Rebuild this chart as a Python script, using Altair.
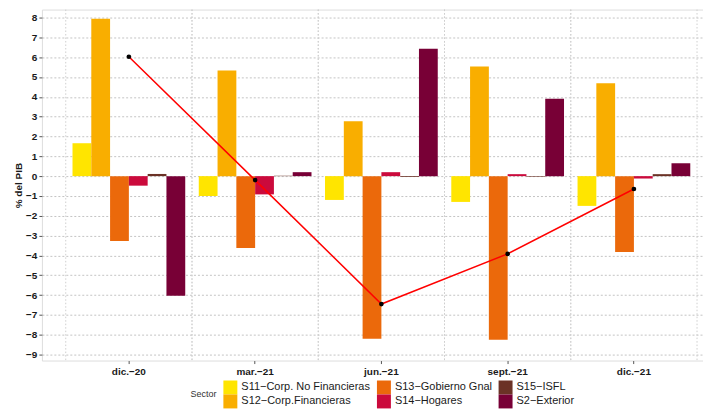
import altair as alt
import pandas as pd

periods = ["dic.\u221220", "mar.\u221221", "jun.\u221221", "sept.\u221221", "dic.\u221221"]
sectors = [
    "S11\u2212Corp. No Financieras",
    "S12\u2212Corp.Financieras",
    "S13\u2212Gobierno Gnal",
    "S14\u2212Hogares",
    "S15\u2212ISFL",
    "S2\u2212Exterior",
]
colors = ["#FFE500", "#F9AE00", "#EB690B", "#CB0A3C", "#6B3226", "#780036"]

s11 = [1.66, -1.0, -1.2, -1.3, -1.5]
s12 = [7.94, 5.33, 2.77, 5.53, 4.68]
s13 = [-3.27, -3.62, -8.2, -8.25, -3.82]
s14 = [-0.48, -0.92, 0.2, 0.1, -0.12]
s15 = [0.11, 0.02, -0.04, -0.03, 0.1]
s2 = [-6.03, 0.2, 6.43, 3.9, 0.65]
total = [6.02, -0.2, -6.45, -3.92, -0.65]

rows = []
for s, vals in zip(sectors, [s11, s12, s13, s14, s15, s2]):
    for p, v in zip(periods, vals):
        rows.append({"period": p, "sector": s, "value": v})
bars_df = pd.DataFrame(rows)
line_df = pd.DataFrame({"period": periods, "value": total})
grid_df = pd.DataFrame({"period": periods})

FONT = "Liberation Sans"
x_scale = alt.Scale(domain=periods, paddingInner=0, paddingOuter=0.118, align=0.8)
y_scale = alt.Scale(domain=[-9.3, 8.4], nice=False, zero=False)

legend_order = [0, 2, 4, 1, 3, 5]
color_scale = alt.Scale(
    domain=[sectors[i] for i in legend_order],
    range=[colors[i] for i in legend_order],
)

y_vals = [i / 2 for i in range(-18, 17)]

y_axis = alt.Axis(
    title="% del PIB",
    values=y_vals,
    tickCount=60,
    labelOverlap=False,
    format="d",
    labelExpr="datum.value % 1 === 0 ? datum.label : ''",
    tickOpacity={"condition": {"test": "datum.value % 1 !== 0", "value": 0}, "value": 1},
    grid=True,
    gridDash=[2, 2],
    gridColor="#c4c4c4",
    gridWidth=1,
    domain=False,
    tickSize=3,
    tickColor="#555555",
    labelFont=FONT,
    labelFontSize=10,
    labelFontWeight="bold",
    labelColor="#1a1a1a",
    labelPadding=2,
    titleFont=FONT,
    titleFontSize=10,
    titleFontWeight="bold",
    titleColor="#1a1a1a",
    titlePadding=2,
)

x_axis = alt.Axis(
    title=None,
    labelAngle=0,
    grid=False,
    domain=False,
    tickSize=3,
    tickColor="#555555",
    labelFont=FONT,
    labelFontSize=10,
    labelFontWeight="bold",
    labelColor="#1a1a1a",
    labelPadding=3,
)

vgrid_start = alt.Chart(grid_df).mark_rule(
    color="#cfcfcf", strokeDash=[1.5, 2], strokeWidth=1
).encode(x=alt.X("period:N", scale=x_scale, sort=periods, bandPosition=0, axis=x_axis))

vgrid_end = alt.Chart(grid_df).mark_rule(
    color="#cfcfcf", strokeDash=[1.5, 2], strokeWidth=1
).encode(x=alt.X("period:N", scale=x_scale, sort=periods, bandPosition=1))

bars = alt.Chart(bars_df).mark_bar(strokeWidth=0).encode(
    x=alt.X("period:N", scale=x_scale, sort=periods, axis=x_axis),
    xOffset=alt.XOffset(
        "sector:N", sort=sectors, scale=alt.Scale(paddingInner=0, paddingOuter=0.36)
    ),
    y=alt.Y("value:Q", scale=y_scale, axis=y_axis),
    color=alt.Color(
        "sector:N",
        scale=color_scale,
        legend=alt.Legend(
            orient="none",
            legendX=149,
            legendY=372,
            direction="horizontal",
            columns=3,
            title="Sector",
            titleOrient="left",
            titleAnchor="middle",
            titleBaseline="middle",
            titleFont=FONT,
            titleFontSize=9,
            titleFontWeight="normal",
            titleColor="#333333",
            titlePadding=6,
            labelFont=FONT,
            labelFontSize=11,
            labelColor="#1a1a1a",
            symbolType="square",
            symbolSize=196,
            symbolStrokeWidth=0,
            symbolOpacity=1,
            rowPadding=0,
            columnPadding=6,
            labelOffset=4,
        ),
    ),
)

line = alt.Chart(line_df).mark_line(color="#FF0000", strokeWidth=1.5).encode(
    x=alt.X("period:N", scale=x_scale, sort=periods),
    y=alt.Y("value:Q", scale=y_scale),
)
points = alt.Chart(line_df).mark_circle(color="black", size=22, opacity=1).encode(
    x=alt.X("period:N", scale=x_scale, sort=periods),
    y=alt.Y("value:Q", scale=y_scale),
)

chart = (
    alt.layer(vgrid_start, vgrid_end, bars, line, points)
    .properties(
        width=663,
        height=352,
        padding={"left": 5, "top": 0, "right": 0, "bottom": 0},
    )
    .configure_view(stroke=None)
    .configure(background="white")
)

chart.save("out.html", embed_options={"renderer": "svg", "actions": False})
